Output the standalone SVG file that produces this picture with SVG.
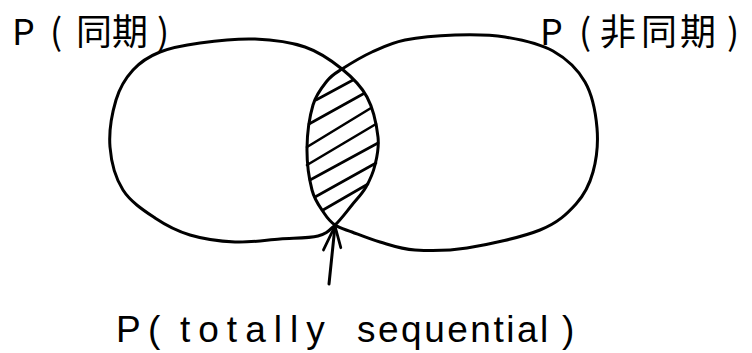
<svg xmlns="http://www.w3.org/2000/svg" width="752" height="353" viewBox="0 0 752 353">
<style>
.outline{fill:none;stroke:#000;stroke-width:3;stroke-linecap:round;stroke-linejoin:round}
.hatch{fill:none;stroke:#000;stroke-width:2.6;stroke-linecap:round}
.lbl{font-family:"Noto Sans CJK JP","Noto Sans CJK SC",sans-serif;font-size:36px;fill:#000}
.lbl2{font-family:"Liberation Sans",Arial,sans-serif;font-size:37px;fill:#000}
</style>
<defs>
<marker id="openArrow" markerUnits="userSpaceOnUse" markerWidth="40" markerHeight="40" refX="0" refY="0" orient="auto" overflow="visible">
<path d="M-25,-9 L0,0 L-21,8" fill="none" stroke="#000" stroke-width="2.8" stroke-linecap="round" stroke-linejoin="round"/>
</marker>
</defs>
<rect width="752" height="353" fill="#fff"/>
<g id="set-sync">
<path class="outline" d="M200,43 C215.8,40.8 237.5,38.3 255,39 C272.5,39.7 290.5,42 305,47 C319.5,52 331.7,60.7 342,69 C352.3,77.3 361,85.7 367,97 C373,108.3 376.7,125.7 378,137 C379.3,148.3 377,156.7 375,165 C373,173.3 369.8,180.3 366,187 C362.2,193.7 357.2,198.7 352,205 C346.8,211.3 340.7,219.8 335,225 C329.3,230.2 327.2,233.7 318,236 C308.8,238.3 293.8,238 280,239 C266.2,240 250,242.7 235,242 C220,241.3 203.3,239 190,235 C176.7,231 166.2,225.5 155,218 C143.8,210.5 130.5,201.8 123,190 C115.5,178.2 111.2,162 110,147 C108.8,132 112.2,112.8 116,100 C119.8,87.2 125.7,78 133,70 C140.3,62 148.8,56.5 160,52 C171.2,47.5 184.2,45.2 200,43 Z"/>
<text class="lbl" y="45"><tspan x="12">P</tspan><tspan x="50">(</tspan><tspan x="76">同期</tspan><tspan x="157">)</tspan></text>
</g>
<g id="set-async">
<path class="outline" d="M342,69 C349.5,64.2 361.5,56.8 372,52 C382.5,47.2 391.2,42.8 405,40 C418.8,37.2 438.3,35.5 455,35 C471.7,34.5 488.7,34.3 505,37 C521.3,39.7 539.7,43.5 553,51 C566.3,58.5 577.7,69.2 585,82 C592.3,94.8 595.7,113 597,128 C598.3,143 596.5,159.3 593,172 C589.5,184.7 584.8,194.3 576,204 C567.2,213.7 558.2,222.7 540,230 C521.8,237.3 487.8,244.7 467,248 C446.2,251.3 429.5,251 415,250 C400.5,249 390.5,245 380,242 C369.5,239 359.5,234.8 352,232 C344.5,229.2 339.7,228.2 335,225 C330.3,221.8 327.8,218.8 324,213 C320.2,207.2 314.8,200.8 312,190 C309.2,179.2 306.8,162.2 307,148 C307.2,133.8 309.7,116.2 313,105 C316.3,93.8 322.2,87 327,81 C331.8,75 334.5,73.8 342,69 Z"/>
<text class="lbl" y="45"><tspan x="540">P</tspan><tspan x="579">(</tspan><tspan x="600">非</tspan><tspan x="641">同</tspan><tspan x="680">期</tspan><tspan x="727">)</tspan></text>
</g>
<g id="intersection">
<path class="hatch" d="M316,100 L353,80 M309,124 L363,94 M307,147 L371,108 M307,165 L376,124 M310,180 L378,143 M315,197 L376,163 M323,210 L368,184"/>
</g>
<g id="connectors">
<path class="outline" d="M329,284 L335,226" marker-end="url(#openArrow)"/>
</g>
<g id="label-totally-sequential">
<text class="lbl2" y="342"><tspan x="116">P</tspan><tspan x="148">(</tspan><tspan x="180" letter-spacing="8">totally</tspan><tspan x="357" letter-spacing="2.5">sequential</tspan><tspan x="562">)</tspan></text>
</g>
</svg>
